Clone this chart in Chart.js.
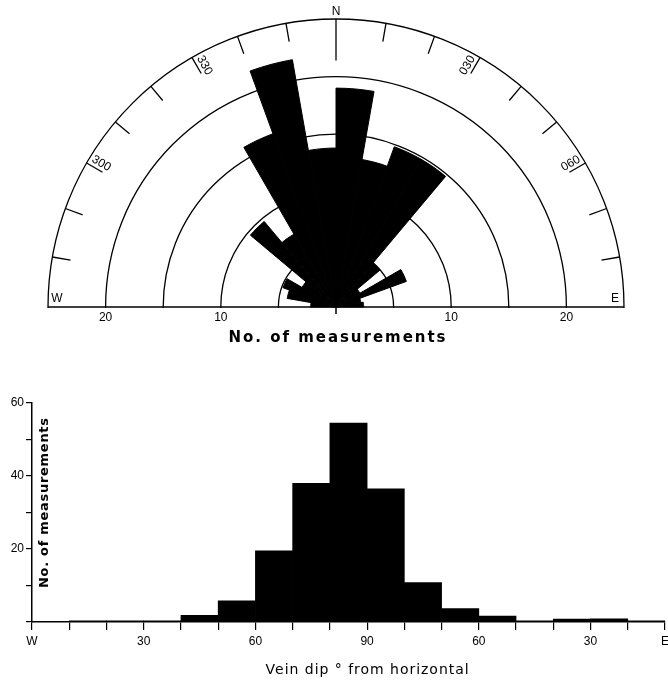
<!DOCTYPE html>
<html lang="en">
<head>
<meta charset="utf-8">
<title>Vein strike and dip</title>
<script src="https://cdn.jsdelivr.net/npm/chart.js@4.4.1/dist/chart.umd.min.js"></script>
<style>
    html, body { margin: 0; padding: 0; background: #fff; }
    body { width: 668px; height: 680px; position: relative; overflow: hidden; }
    #rose-box { position: absolute; left: 0; top: 0; width: 668px; height: 350px; overflow: hidden; }
    #dip-chart { position: absolute; left: 0; top: 350px; }
</style>
</head>
<body>
<div id="rose-box"><canvas id="rose-chart" width="668" height="680"></canvas></div>
<canvas id="dip-chart" width="668" height="330"></canvas>
<script>
// rose diagram - vein strike, 10 degree classes (start of class, clockwise from N)
const strikeClasses = [270, 280, 290, 300, 310, 320, 330, 340, 350, 0, 10, 20, 30, 40, 50, 60, 70, 80];
const strikeCounts = [2.2, 4.3, 4.9, 3.4, 9.7, 7.3, 16, 21.8, 13.8, 19, 13, 14.8, 14.8, 5, 2.4, 6.5, 2.2, 2.4];
const ringLabelValues = [-20, -10, 10, 20];
const rimLabelAngles = [300, 330, 30, 60];
const rimLabelTexts = ['300', '330', '030', '060'];

// histogram - vein dip, 10 degree classes from W through vertical to E
const dipClasses = [0, 10, 20, 30, 40, 50, 60, 70, 80, 90, 100, 110, 120, 130, 140, 150, 160];
const dipCounts = [0, 0.3, 0.3, 0.3, 1.8, 5.8, 19.5, 38, 54.5, 36.5, 10.8, 3.7, 1.6, 0.3, 0.8, 0.9, 0.3];
const dipTickValues = [0, 30, 60, 90, 120, 150, 170];
const dipTickTexts = ['W', '30', '60', '90', '60', '30', 'E'];

const fontName = '"Liberation Sans", Arial, sans-serif';
const titleFont = '"DejaVu Sans", sans-serif';

// full circle of 36 classes, the southern half stays empty
const roseLabels = [];
const roseValues = [];
for (let az = 0; az < 360; az += 10) {
    roseLabels.push(String(az).padStart(3, '0'));
    const i = strikeClasses.indexOf(az);
    roseValues.push(i === -1 ? 0 : strikeCounts[i]);
}

// text stretched to a given width (old drafting lettering is spaced out)
function spacedText(ctx, text, x, y, width) {
    ctx.letterSpacing = '0px';
    const plain = ctx.measureText(text).width;
    const gap = Math.max(0, (width - plain) / (text.length - 1));
    ctx.letterSpacing = gap + 'px';
    ctx.textAlign = 'left';
    ctx.fillText(text, x - width / 2, y);
    ctx.letterSpacing = '0px';
}

const roseDecor = {
    id: 'roseDecor',
    afterDraw(chart) {
        const ctx = chart.ctx;
        const r = chart.scales.r;
        const cx = r.xCenter;
        const cy = r.yCenter;
        const rimR = r.getDistanceFromCenterForValue(25);

        ctx.save();
        // only the northern half is shown
        ctx.fillStyle = '#fff';
        ctx.fillRect(0, cy + 1, chart.width, chart.height);

        ctx.strokeStyle = '#000';
        ctx.lineWidth = 1.5;
        ctx.beginPath();
        ctx.moveTo(cx - rimR, cy);
        ctx.lineTo(cx + rimR, cy);
        ctx.moveTo(cx, cy);
        ctx.lineTo(cx, cy + 7);
        ctx.stroke();

        // ticks on the rim every 10 degrees
        ctx.lineWidth = 1.3;
        ctx.beginPath();
        for (let az = 280; az <= 440; az += 10) {
            const idx = (az % 360) / 10;
            const inner = az % 360 === 0 ? 21.4 : 23.4;
            const p1 = r.getPointPosition(idx, rimR);
            const p2 = r.getPointPosition(idx, r.getDistanceFromCenterForValue(inner));
            ctx.moveTo(p1.x, p1.y);
            ctx.lineTo(p2.x, p2.y);
        }
        ctx.stroke();

        ctx.fillStyle = '#000';
        ctx.font = '12px ' + fontName;
        ctx.textBaseline = 'bottom';
        rimLabelAngles.forEach((az, i) => {
            const p = r.getPointPosition(az / 10, rimR - 3);
            ctx.save();
            ctx.translate(p.x, p.y);
            if (az > 180) {
                ctx.rotate(p.angle + Math.PI);
                ctx.textAlign = 'left';
            } else {
                ctx.rotate(p.angle);
                ctx.textAlign = 'right';
            }
            ctx.fillText(rimLabelTexts[i], 0, -1);
            ctx.restore();
        });

        ctx.font = '12px ' + fontName;
        ctx.textAlign = 'center';
        ctx.textBaseline = 'bottom';
        ctx.fillText('N', cx, cy - rimR - 1);
        ctx.fillText('W', cx - rimR + 9, cy - 2);
        ctx.fillText('E', cx + rimR - 9, cy - 2);

        ctx.textBaseline = 'top';
        ringLabelValues.forEach((v) => {
            const d = r.getDistanceFromCenterForValue(Math.abs(v));
            ctx.fillText(String(Math.abs(v)), cx + Math.sign(v) * d, cy + 5);
        });

        ctx.font = 'bold 15px ' + titleFont;
        ctx.textBaseline = 'middle';
        spacedText(ctx, 'No. of measurements', cx + 1, cy + 31, 217);
        ctx.restore();
    }
};

new Chart(document.getElementById('rose-chart'), {
    type: 'polarArea',
    data: {
        labels: roseLabels,
        datasets: [{
            data: roseValues,
            backgroundColor: '#000',
            borderColor: '#000',
            borderWidth: 1
        }]
    },
    options: {
        responsive: false,
        animation: false,
        layout: {padding: {left: 48, right: 44, top: 19, bottom: 85}},
        plugins: {legend: {display: false}, tooltip: {enabled: false}},
        scales: {
            r: {
                min: 0,
                max: 25,
                startAngle: 0,
                ticks: {stepSize: 5, display: false},
                grid: {circular: true, color: '#000', lineWidth: 1.3},
                angleLines: {display: false},
                pointLabels: {display: false}
            }
        }
    },
    plugins: [roseDecor]
});

const dipDecor = {
    id: 'dipDecor',
    afterDraw(chart) {
        const ctx = chart.ctx;
        const x = chart.scales.x;
        ctx.save();
        ctx.fillStyle = '#000';
        ctx.textBaseline = 'middle';

        ctx.font = '14px ' + titleFont;
        spacedText(ctx, 'Vein dip ° from horizontal', x.getPixelForValue(90), 320, 203);

        // y title sits inside the plot, next to the axis
        ctx.translate(45, 153);
        ctx.rotate(-Math.PI / 2);
        ctx.font = 'bold 13px ' + titleFont;
        spacedText(ctx, 'No. of measurements', 0, 0, 170);
        ctx.restore();
    }
};

new Chart(document.getElementById('dip-chart'), {
    type: 'bar',
    data: {
        datasets: [{
            data: dipClasses.map((c, i) => ({x: c + 5, y: dipCounts[i]})),
            backgroundColor: '#000',
            borderWidth: 0,
            barPercentage: 1,
            categoryPercentage: 1
        }]
    },
    options: {
        responsive: false,
        animation: false,
        layout: {padding: {top: 53, right: 3, left: 0, bottom: 0}},
        plugins: {legend: {display: false}, tooltip: {enabled: false}},
        scales: {
            x: {
                type: 'linear',
                min: 0,
                max: 170,
                offset: false,
                afterFit: (s) => {
                    s.height = 58;
                    s.paddingLeft = 0;
                    s.paddingRight = 0;
                },
                grid: {drawOnChartArea: false, tickLength: 8, color: '#000', lineWidth: 1.2, offset: false},
                border: {color: '#000', width: 1.5},
                ticks: {
                    stepSize: 10,
                    autoSkip: false,
                    maxRotation: 0,
                    padding: 4,
                    color: '#000',
                    font: {family: fontName, size: 12},
                    callback: (v) => {
                        const i = dipTickValues.indexOf(v);
                        return i === -1 ? '' : dipTickTexts[i];
                    }
                }
            },
            y: {
                min: 0,
                max: 60,
                afterFit: (s) => { s.width = 32; },
                grid: {drawOnChartArea: false, tickLength: 6, color: '#000', lineWidth: 1.2},
                border: {color: '#000', width: 1.5},
                ticks: {
                    stepSize: 10,
                    padding: 2,
                    color: '#000',
                    font: {family: fontName, size: 12},
                    callback: (v) => (v > 0 && v % 20 === 0 ? v : '')
                }
            }
        }
    },
    plugins: [dipDecor]
});
</script>
</body>
</html>
